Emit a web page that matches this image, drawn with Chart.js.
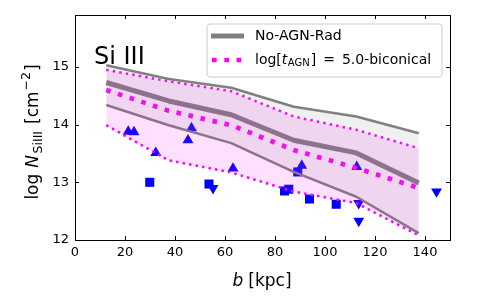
<!DOCTYPE html>
<html>
<head>
<meta charset="utf-8">
<script src="https://cdn.jsdelivr.net/npm/chart.js@4"></script>
<style>
html,body{margin:0;padding:0;background:#fff;}
#wrap{width:500px;height:300px;position:relative;}
</style>
</head>
<body>
<div id="wrap"><canvas id="c" width="500" height="300"></canvas></div>
<script>
// ---- data ----
const binsX    = [12.5, 37.5, 62.5, 87.5, 112.5, 137.5];
const noAgnMed = [14.73, 14.41, 14.17, 13.73, 13.51, 12.99];
const noAgnHi  = [15.03, 14.79, 14.64, 14.31, 14.14, 13.85];
const noAgnLo  = [14.34, 13.99, 13.68, 13.18, 12.75, 12.12];
const agnMed   = [14.60, 14.24, 13.99, 13.56, 13.25, 12.90];
const agnHi    = [14.95, 14.75, 14.58, 14.14, 13.91, 13.59];
const agnLo    = [13.99, 13.38, 13.17, 12.84, 12.64, 12.08];

const upX   = [21.3, 23.6, 32.3, 45.2, 46.6, 63.2, 90.7, 112.7];
const upY   = [13.88, 13.87, 13.51, 13.73, 13.94, 13.24, 13.29, 13.27];
const sqX   = [29.9, 53.6, 83.8, 85.5, 89.1, 93.8, 104.5];
const sqY   = [13.00, 12.97, 12.85, 12.88, 13.18, 12.71, 12.62];
const dnX   = [55.2, 113.5, 113.5, 144.6];
const dnY   = [12.90, 12.64, 12.33, 12.84];

const xTicks = [0, 20, 40, 60, 80, 100, 120, 140];
const yTicks = [12, 13, 14, 15];
const legendLabels = ['No-AGN-Rad', '5.0-biconical'];

const pts = (xs, ys) => xs.map((x, i) => ({x: x, y: ys[i]}));
const FONT = '"DejaVu Sans", sans-serif';

const GRAY = '#808080';
const MAG = '#ff00ff';
const BLUE = '#0000ff';

function lineDs(data, color, width, dash) {
  return {data: data, borderColor: color, borderWidth: width, borderDash: dash || [],
    pointRadius: 0, fill: false, tension: 0, borderCapStyle: 'butt', borderJoinStyle: 'round'};
}
function fillTop(data, color) {
  return {data: data, borderWidth: 0, borderColor: 'rgba(0,0,0,0)', pointRadius: 0,
    fill: '+1', backgroundColor: color, tension: 0};
}
function fillBot(data) {
  return {data: data, borderWidth: 0, borderColor: 'rgba(0,0,0,0)', pointRadius: 0, fill: false, tension: 0};
}
function scatterDs(data, style, rot, r) {
  return {type: 'scatter', data: data, pointStyle: style, pointRotation: rot, pointRadius: r,
    backgroundColor: BLUE, borderColor: BLUE, borderWidth: 0, showLine: false};
}

function drawRich(ctx, parts, x, y, align) {
  let w = 0;
  parts.forEach(p => { ctx.font = p.font; w += ctx.measureText(p.t).width + (p.sp || 0); });
  let cx = align === 'center' ? x - w / 2 : x;
  parts.forEach(p => {
    ctx.font = p.font;
    ctx.fillText(p.t, cx, y + (p.dy || 0));
    cx += ctx.measureText(p.t).width + (p.sp || 0);
  });
  return w;
}

const decor = {
  id: 'decor',
  afterDraw(chart) {
    const ctx = chart.ctx;
    const a = chart.chartArea;
    const xs = chart.scales.x, ys = chart.scales.y;
    ctx.save();
    // inward ticks
    ctx.strokeStyle = '#000';
    ctx.lineWidth = 1;
    const L = 4;
    ctx.beginPath();
    xTicks.forEach(v => {
      const px = Math.round(xs.getPixelForValue(v)) + 0.5;
      ctx.moveTo(px, a.bottom); ctx.lineTo(px, a.bottom - L);
      ctx.moveTo(px, a.top); ctx.lineTo(px, a.top + L);
    });
    yTicks.forEach(v => {
      const py = Math.round(ys.getPixelForValue(v)) + 0.5;
      ctx.moveTo(a.left, py); ctx.lineTo(a.left + L, py);
      ctx.moveTo(a.right, py); ctx.lineTo(a.right - L, py);
    });
    ctx.stroke();
    // frame
    ctx.lineWidth = 1;
    ctx.strokeRect(Math.round(a.left) + 0.5, Math.round(a.top) + 0.5,
      Math.round(a.right - a.left), Math.round(a.bottom - a.top));

    ctx.fillStyle = '#000';
    ctx.textBaseline = 'alphabetic';
    // Si III label
    ctx.font = '24px ' + FONT;
    ctx.textAlign = 'left';
    ctx.fillText('Si III', 94, 64);

    // x title
    drawRich(ctx, [
      {t: 'b', font: 'italic 17px ' + FONT, sp: 5},
      {t: '[kpc]', font: '17px ' + FONT}
    ], 262, 286, 'center');

    // y title
    ctx.save();
    ctx.translate(38, 132);
    ctx.rotate(-Math.PI / 2);
    drawRich(ctx, [
      {t: 'log', font: '17px ' + FONT, sp: 6},
      {t: 'N', font: 'italic 17px ' + FONT, sp: 1.5},
      {t: 'SiIII', font: '12.5px ' + FONT, dy: 4, sp: 7},
      {t: '[cm', font: '17px ' + FONT, sp: 1},
      {t: '\u22122', font: '12.5px ' + FONT, dy: -8, sp: 1},
      {t: ']', font: '17px ' + FONT}
    ], 0, 0, 'center');
    ctx.restore();

    // legend
    const bx = 207, by = 24, bw = 235, bh = 53, r = 3;
    ctx.beginPath();
    ctx.moveTo(bx + r, by);
    ctx.arcTo(bx + bw, by, bx + bw, by + bh, r);
    ctx.arcTo(bx + bw, by + bh, bx, by + bh, r);
    ctx.arcTo(bx, by + bh, bx, by, r);
    ctx.arcTo(bx, by, bx + bw, by, r);
    ctx.closePath();
    ctx.fillStyle = 'rgba(255,255,255,0.8)';
    ctx.fill();
    ctx.strokeStyle = '#cccccc';
    ctx.lineWidth = 1;
    ctx.stroke();

    ctx.lineCap = 'butt';
    ctx.strokeStyle = GRAY; ctx.lineWidth = 5; ctx.setLineDash([]);
    ctx.beginPath(); ctx.moveTo(211, 36); ctx.lineTo(244, 36); ctx.stroke();
    ctx.strokeStyle = MAG; ctx.lineWidth = 4.7; ctx.setLineDash([4.7, 7.6]);
    ctx.beginPath(); ctx.moveTo(212, 60); ctx.lineTo(244, 60); ctx.stroke();
    ctx.setLineDash([]);

    ctx.fillStyle = '#000';
    ctx.textBaseline = 'middle';
    ctx.font = '14px ' + FONT;
    ctx.fillText(legendLabels[0], 255, 36);
    drawRich(ctx, [
      {t: 'log[', font: '14px ' + FONT},
      {t: 't', font: 'italic 14px ' + FONT, sp: 0.5},
      {t: 'AGN', font: '10px ' + FONT, dy: 3, sp: 1},
      {t: ']', font: '14px ' + FONT, sp: 7},
      {t: '=', font: '14px ' + FONT, sp: 7},
      {t: legendLabels[1], font: '14px ' + FONT}
    ], 255, 60, 'left');
    ctx.restore();
  }
};

new Chart(document.getElementById('c'), {
  type: 'line',
  data: {
    datasets: [
      fillTop(pts(binsX, noAgnHi), 'rgba(128,128,128,0.12)'),
      fillBot(pts(binsX, noAgnLo)),
      fillTop(pts(binsX, agnHi), 'rgba(255,0,255,0.12)'),
      fillBot(pts(binsX, agnLo)),
      lineDs(pts(binsX, noAgnHi), GRAY, 2.5),
      lineDs(pts(binsX, noAgnLo), GRAY, 2.5),
      lineDs(pts(binsX, noAgnMed), GRAY, 5),
      lineDs(pts(binsX, agnHi), MAG, 2.5, [2.5, 4.1]),
      lineDs(pts(binsX, agnLo), MAG, 2.5, [2.5, 4.1]),
      lineDs(pts(binsX, agnMed), MAG, 4.7, [4.7, 7.6]),
      scatterDs(pts(sqX, sqY), 'rect', 0, 6.4),
      scatterDs(pts(upX, upY), 'triangle', 0, 6.3),
      scatterDs(pts(dnX, dnY), 'triangle', 180, 6.3)
    ]
  },
  options: {
    responsive: false,
    animation: false,
    events: [],
    layout: {padding: {left: 0, right: 50, top: 15, bottom: 0}},
    plugins: {legend: {display: false}, tooltip: {enabled: false}},
    scales: {
      x: {
        type: 'linear', min: 0, max: 150,
        grid: {display: false, drawTicks: false}, border: {display: false},
        ticks: {stepSize: 20, includeBounds: false, padding: 5, color: '#000',
          font: {family: FONT, size: 13}},
        afterFit: s => { s.height = 60; }
      },
      y: {
        type: 'linear', min: 12, max: 15.9,
        grid: {display: false, drawTicks: false}, border: {display: false},
        ticks: {stepSize: 1, includeBounds: false, padding: 6, color: '#000',
          font: {family: FONT, size: 13}},
        afterFit: s => { s.width = 75; }
      }
    }
  },
  plugins: [decor]
});
</script>
</body>
</html>
